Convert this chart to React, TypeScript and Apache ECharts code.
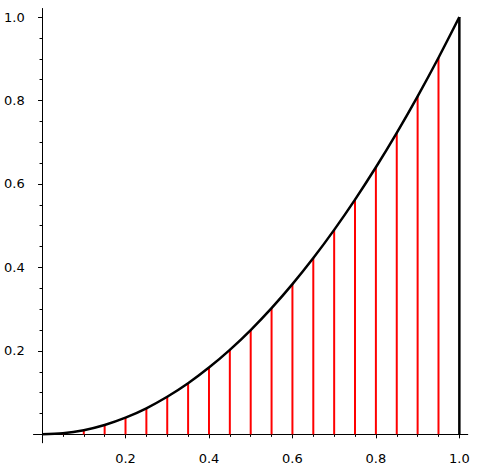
import React, { useEffect, useRef } from "react";
import * as echarts from "echarts";

// Curve samples (x, y)
const curveX = [0, 0.05, 0.1, 0.15, 0.2, 0.25, 0.3, 0.35, 0.4, 0.45, 0.5, 0.55, 0.6, 0.65, 0.7, 0.75, 0.8, 0.85, 0.9, 0.95, 1.0];
const curveY = [0, 0.0025, 0.01, 0.0225, 0.04, 0.0625, 0.09, 0.1225, 0.16, 0.2025, 0.25, 0.3025, 0.36, 0.4225, 0.49, 0.5625, 0.64, 0.7225, 0.81, 0.9025, 1.0];
// Red stems
const stemX = [0.05, 0.1, 0.15, 0.2, 0.25, 0.3, 0.35, 0.4, 0.45, 0.5, 0.55, 0.6, 0.65, 0.7, 0.75, 0.8, 0.85, 0.9, 0.95];
const stemY = [0.0025, 0.01, 0.0225, 0.04, 0.0625, 0.09, 0.1225, 0.16, 0.2025, 0.25, 0.3025, 0.36, 0.4225, 0.49, 0.5625, 0.64, 0.7225, 0.81, 0.9025];
// Closing vertical edge at x = 1
const edgeX = [1, 1];
const edgeY = [0, 1];
// Ticks
const majorTicks = [0, 0.2, 0.4, 0.6, 0.8, 1.0];
const tickLabels = [0.2, 0.4, 0.6, 0.8, 1.0];
const minorTicks = [0, 0.05, 0.1, 0.15, 0.2, 0.25, 0.3, 0.35, 0.4, 0.45, 0.5, 0.55, 0.6, 0.65, 0.7, 0.75, 0.8, 0.85, 0.9, 0.95, 1.0];

const AX_MIN = -0.02;
const AX_MAX = 1.02;

export default function App() {
  const ref = useRef<HTMLDivElement>(null);
  useEffect(() => {
    if (!ref.current) return;
    const chart = echarts.init(ref.current, undefined, { renderer: "svg" });
    const lineStyle = { color: "#000", width: 1 };
    const mkAxis = (pos: string, major: boolean) => ({
      type: "value",
      position: pos,
      min: AX_MIN,
      max: AX_MAX,
      axisLine: { show: true, onZero: true, lineStyle },
      axisTick: {
        show: true,
        inside: false,
        length: major ? 4 : 2.5,
        lineStyle,
        customValues: major ? majorTicks : minorTicks,
      },
      axisLabel: major
        ? {
            show: true,
            margin: 9,
            customValues: tickLabels,
            formatter: (v: number) => v.toFixed(1),
            fontFamily: "DejaVu Sans",
            fontSize: 13,
            color: "#000",
          }
        : { show: false },
      splitLine: { show: false },
    });
    chart.setOption({
      animation: false,
      backgroundColor: "#fff",
      grid: {
        left: 33.7,
        right: 11.3,
        top: 8.7,
        bottom: 25.3,
        containLabel: false,
        outerBoundsMode: "none",
      },
      xAxis: [mkAxis("bottom", true), mkAxis("bottom", false)],
      yAxis: [mkAxis("left", true), mkAxis("left", false)],
      series: [
        {
          type: "bar",
          barWidth: 2,
          itemStyle: { color: "#ff0000" },
          data: stemX.map((x, i) => [x, stemY[i]]),
        },
        {
          type: "line",
          smooth: 0.3,
          symbol: "none",
          lineStyle: { color: "#000", width: 2.5 },
          data: curveX.map((x, i) => [x, curveY[i]]),
        },
        {
          type: "line",
          symbol: "none",
          lineStyle: { color: "#000", width: 2.5 },
          data: edgeX.map((x, i) => [x, edgeY[i]]),
        },
      ],
    });
    return () => chart.dispose();
  }, []);
  return <div ref={ref} style={{ width: 479, height: 468, position: "absolute", left: 0, top: 0 }} />;
}
